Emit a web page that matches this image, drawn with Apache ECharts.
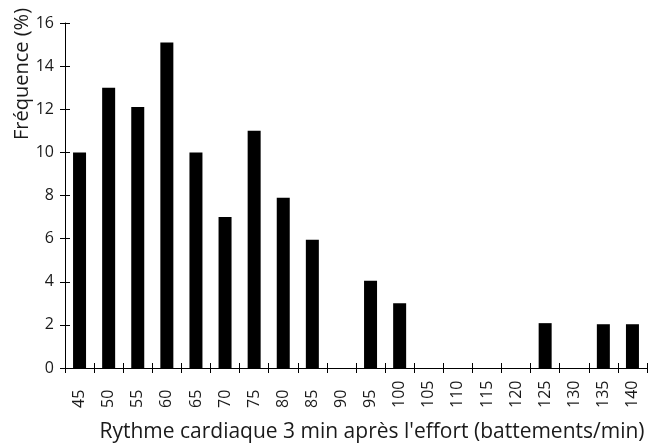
<!DOCTYPE html>
<html>
<head>
<meta charset="utf-8">
<script src="https://cdn.jsdelivr.net/npm/echarts@6/dist/echarts.min.js"></script>
<style>html,body{margin:0;padding:0;background:#fff}#c{width:651px;height:446px}</style>
</head>
<body>
<div id="c"></div>
<script>
const categories = ['45','50','55','60','65','70','75','80','85','90','95','100','105','110','115','120','125','130','135','140'];
const frequency = [10, 13, 12.1, 15.1, 10, 7, 11, 7.9, 5.95, 0, 4.05, 3, 0, 0, 0, 0, 2.08, 0, 2.03, 2.03];
const yTitle = 'Fréquence (%)';
const xTitle = "Rythme cardiaque 3 min après l'effort (battements/min)";

const FONT = 'Open Sans';
const chart = echarts.init(document.getElementById('c'));
const yBase = {
  type: 'value', min: 0, max: 16, interval: 2,
  splitLine: { show: false }
};
chart.setOption({
  animation: false,
  grid: { left: 65, right: 4, top: 23, bottom: 78, containLabel: false },
  xAxis: [
    {
      type: 'category', data: categories, boundaryGap: true,
      axisLine: { lineStyle: { color: '#000', width: 1 } },
      axisTick: { show: true, inside: false, length: 5, lineStyle: { color: '#000' } },
      axisLabel: { rotate: 90, align: 'left', verticalAlign: 'middle', margin: 40, fontFamily: FONT, fontSize: 16, color: '#1a1a1a', interval: 0 }
    },
    {
      type: 'category', data: categories, position: 'bottom', boundaryGap: true,
      axisLine: { show: false },
      axisTick: { show: true, inside: true, length: 5, lineStyle: { color: '#000' } },
      axisLabel: { show: false }
    }
  ],
  yAxis: [
    Object.assign({}, yBase, {
      axisLine: { show: true, lineStyle: { color: '#000', width: 1 } },
      axisTick: { show: true, inside: false, length: 5, lineStyle: { color: '#000' } },
      axisLabel: { margin: 11, fontFamily: FONT, fontSize: 16, color: '#1a1a1a' }
    }),
    Object.assign({}, yBase, {
      position: 'left',
      axisLine: { show: false },
      axisTick: { show: true, inside: true, length: 5, lineStyle: { color: '#000' } },
      axisLabel: { show: false }
    })
  ],
  graphic: [
    { type: 'text', x: 22, y: 74, rotation: Math.PI / 2,
      style: { text: yTitle, font: '20px "Open Sans"', fill: '#1a1a1a', align: 'center', verticalAlign: 'middle' } },
    { type: 'text', x: 372, y: 432,
      style: { text: xTitle, font: '21px "Open Sans"', fill: '#1a1a1a', align: 'center', verticalAlign: 'middle' } }
  ],
  series: [{
    type: 'bar', data: frequency, barWidth: 13,
    itemStyle: { color: '#000' }
  }]
});
</script>
</body>
</html>
